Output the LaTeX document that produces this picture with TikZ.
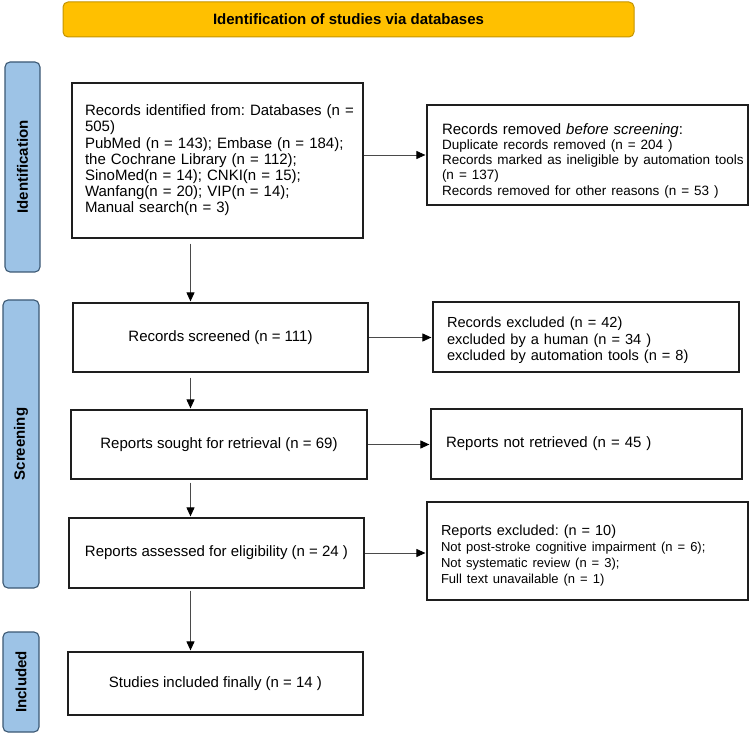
\documentclass[tikz,border=0pt]{standalone}
\usepackage{fontspec}
\setmainfont{Liberation Sans}
\usetikzlibrary{arrows.meta,calc}
\definecolor{hdrfill}{HTML}{FFC000}
\definecolor{hdrline}{HTML}{C49400}
\definecolor{tabfill}{HTML}{9DC3E6}
\definecolor{tabline}{HTML}{3B5873}
\definecolor{boxline}{HTML}{1E1E1E}
\definecolor{arrline}{HTML}{4A4A4A}
\frenchspacing
\begin{document}
\begin{tikzpicture}[x=1pt,y=-1pt,
  every node/.append style={execute at begin node=\frenchspacing},
  box/.style={draw=boxline, line width=1.2pt, fill=white, inner ysep=0pt,
    font=\fontsize{15}{16.2}\selectfont},
  cbox/.style={box, align=center, inner xsep=0pt},
  lbox/.style={box, align=left},
  tabbox/.style={draw=tabline, line width=1.1pt, fill=tabfill, rounded corners=5pt,
    rotate=90, inner sep=0pt, font=\bfseries\fontsize{15}{16}\selectfont},
  hdrbox/.style={draw=hdrline, line width=1pt, fill=hdrfill, rounded corners=5pt,
    inner sep=0pt, font=\bfseries\fontsize{15}{16}\selectfont},
  arr/.style={draw=arrline, line width=0.9pt,
    -{Triangle[length=9pt,width=8pt,color=black]}, shorten >=1pt}]
\useasboundingbox (0,0) rectangle (750,735);

% header
\node[hdrbox, minimum width=571pt, minimum height=35pt] (hdr) at (348.5,19.5)
  {Identification of studies via databases};

% side tabs
\node[tabbox, minimum width=210pt, minimum height=35pt] (tabid) at (22.5,167) {Identification};
\node[tabbox, minimum width=288pt, minimum height=36pt] (tabsc) at (21,444) {Screening};
\node[tabbox, minimum width=100pt, minimum height=36pt] (tabin) at (21,682) {Included};

% boxes
\node[lbox, text width=265pt, inner xsep=13pt, minimum height=155pt] (id) at (217.5,160.5)
  {\mbox{Records identified from: Databases (n =}\\
   505)\\
   \mbox{PubMed (n = 143); Embase (n = 184);}\\
   the Cochrane Library (n = 112);\\
   SinoMed(n = 14); CNKI(n = 15);\\
   Wanfang(n = 20); VIP(n = 14);\\
   Manual search(n = 3)};

\node[lbox, text width=291pt, inner xsep=15pt, minimum height=100pt] (removed) at (587.5,155)
  {\fontsize{13.5}{15}\selectfont
   {\fontsize{15}{15}\selectfont\rule{0pt}{22.5pt}Records removed \textit{before screening}:}\\
   Duplicate records removed (n = 204 )\\
   \mbox{Records marked as ineligible by automation tools}\\
   (n = 137)\\
   Records removed for other reasons (n = 53 )};

\node[cbox, minimum width=295pt, minimum height=69pt] (screened) at (220.5,337.5)
  {Records screened (n = 111)};

\node[lbox, text width=278pt, inner xsep=14pt, minimum height=70pt] (excluded) at (586,337)
  {\fontsize{14.6}{17}\selectfont
   \rule{0pt}{16.5pt}Records excluded (n = 42)\\
   excluded by a human (n = 34 )\\
   excluded by automation tools (n = 8)};

\node[cbox, minimum width=296pt, minimum height=69pt] (sought) at (219,444.5)
  {Reports sought for retrieval (n = 69)};

\node[lbox, text width=281pt, inner xsep=15pt, minimum height=70pt] (notret) at (586.5,444)
  {Reports not retrieved (n = 45 )};

\node[cbox, minimum width=295pt, minimum height=70pt] (assessed) at (216.5,553)
  {Reports assessed for eligibility (n = 24 )};

\node[lbox, text width=293pt, inner xsep=14pt, minimum height=98pt] (repexcl) at (587.5,551)
  {\fontsize{13}{16}\selectfont
   {\fontsize{14.5}{16}\selectfont\rule{0pt}{19pt}Reports excluded: (n = 10)}\\
   \mbox{Not post-stroke cognitive impairment (n = 6);}\\
   Not systematic review (n = 3);\\
   Full text unavailable (n = 1)};

\node[cbox, minimum width=295pt, minimum height=63pt] (included) at (215.5,683.5)
  {Studies included finally (n = 14 )};

% connectors
\coordinate (vx) at (190.5,0);
\draw[arr] ($(id.south -| vx)+(0,5)$) -- (screened.north -| vx);
\draw[arr] ($(screened.south -| vx)+(0,5)$) -- (sought.north -| vx);
\draw[arr] ($(sought.south -| vx)+(0,3)$) -- (assessed.north -| vx);
\draw[arr] ($(assessed.south -| vx)+(0,2)$) -- (included.north -| vx);

\draw[arr] (id.east |- removed.west) -- (removed.west);
\draw[arr] (screened.east) -- (screened.east -| excluded.west);
\draw[arr] (sought.east) -- (sought.east -| notret.west);
\draw[arr] (assessed.east) -- (assessed.east -| repexcl.west);
\end{tikzpicture}
\end{document}
